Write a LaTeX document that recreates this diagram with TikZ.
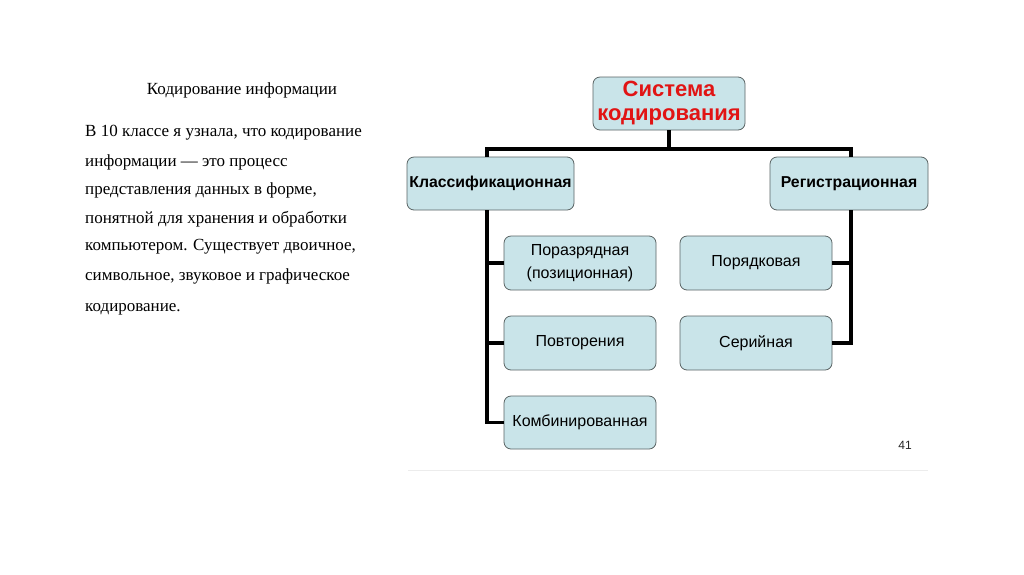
\documentclass[tikz,border=0pt]{standalone}
\usepackage{fontspec}
\setmainfont{Liberation Serif}
\newfontfamily\arial{Liberation Sans}
\definecolor{boxfill}{RGB}{201,228,233}
\definecolor{boxdraw}{RGB}{90,100,100}
\definecolor{titlered}{RGB}{225,20,20}
\begin{document}
\begin{tikzpicture}[x=1pt,y=-1pt,
  box/.style={draw=boxdraw,line width=0.8pt,fill=boxfill,rounded corners=7pt,
    inner sep=0pt,align=center,font=\arial\fontsize{16}{23}\selectfont},
  conn/.style={line width=3.2pt,black},
  para/.style={anchor=west,inner sep=0pt,font=\fontsize{17}{20}\selectfont}]
\useasboundingbox (0,0) rectangle (1024,574);
\fill[white] (0,0) rectangle (1024,574);
\draw[gray!15,line width=1pt] (408,470) -- (928,470);
% left text
\node[inner sep=0pt,font=\fontsize{17}{20}\selectfont] (title) at (242,90) {Кодирование информации};
\node[para] (l1) at (85,133) {В 10 классе я узнала, что кодирование};
\node[para] (l2) at (85,162) {информации — это процесс};
\node[para] (l3) at (85,190) {представления данных в форме,};
\node[para] (l4) at (85,219) {понятной для хранения и обработки};
\node[para] (l5) at (85,247) {компьютером. Существует двоичное,};
\node[para] (l6) at (85,276) {символьное, звуковое и графическое};
\node[para] (l7) at (85,309) {кодирование.};
% boxes
\node[box,minimum width=152pt,minimum height=53pt,font=\arial\bfseries\fontsize{22}{24}\selectfont,text=titlered] (top) at (669,103.5) {Система\\кодирования};
\node[box,minimum width=167pt,minimum height=53pt,font=\arial\bfseries\fontsize{15.8}{18}\selectfont] (cls) at (490.5,183.5) {Классификационная};
\node[box,minimum width=158pt,minimum height=53pt,font=\arial\bfseries\fontsize{15.8}{18}\selectfont] (reg) at (849,183.5) {Регистрационная};
\node[box,minimum width=152pt,minimum height=54pt] (poz) at (580,263) {Поразрядная\\(позиционная)};
\node[box,minimum width=152pt,minimum height=54pt] (pov) at (580,343) {Повторения};
\node[box,minimum width=152pt,minimum height=53pt] (kom) at (580,422.5) {Комбинированная};
\node[box,minimum width=152pt,minimum height=54pt] (por) at (756,263) {Порядковая};
\node[box,minimum width=152pt,minimum height=54pt] (ser) at (756,343) {Серийная};
\node[inner sep=0pt,font=\arial\fontsize{12}{14}\selectfont,text=black!85] (num) at (905,445) {41};
% connectors
\coordinate (hub) at (669,149);
\draw[conn] (top.south) -- (hub);
\draw[conn] (487,157) |- (hub) -| (851,157);
\draw[conn] (487,210) |- (kom.west);
\draw[conn] (487,263) -- (poz.west);
\draw[conn] (487,343) -- (pov.west);
\draw[conn] (851,210) |- (ser.east);
\draw[conn] (851,263) -- (por.east);
\end{tikzpicture}
\end{document}
